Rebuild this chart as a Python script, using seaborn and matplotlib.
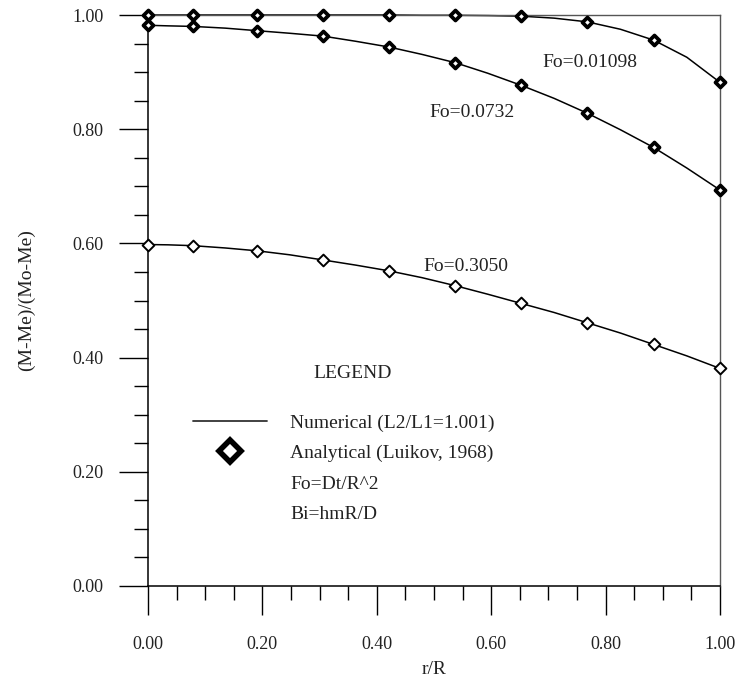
import numpy as np
import pandas as pd
import matplotlib
matplotlib.use("Agg")
import matplotlib.pyplot as plt
from matplotlib.lines import Line2D
from matplotlib.ticker import MultipleLocator, FormatStrFormatter
import seaborn as sns

# ---------------- data ----------------
r_analytical = [0.0, 0.079, 0.191, 0.306, 0.421, 0.537, 0.652, 0.768, 0.884, 1.0]
ana_fo_01098 = [1.0, 1.0, 1.0, 1.0, 1.0, 1.0, 0.998, 0.988, 0.956, 0.882]
ana_fo_0732 = [0.982, 0.980, 0.9725, 0.963, 0.944, 0.9165, 0.877, 0.828, 0.768, 0.6935]
ana_fo_3050 = [0.598, 0.596, 0.587, 0.571, 0.552, 0.526, 0.495, 0.461, 0.423, 0.381]

r_numerical = [0.0, 0.035, 0.079, 0.135, 0.191, 0.248, 0.306, 0.363, 0.421, 0.479,
               0.537, 0.594, 0.652, 0.710, 0.768, 0.826, 0.884, 0.942, 1.0]
num_fo_01098 = [1.0, 1.0, 1.0, 1.0, 1.0, 1.0, 1.0, 1.0, 1.0, 0.9995,
                0.9995, 0.999, 0.998, 0.9945, 0.988, 0.975, 0.956, 0.926, 0.882]
num_fo_0732 = [0.982, 0.981, 0.980, 0.977, 0.9725, 0.968, 0.963, 0.954, 0.944, 0.931,
               0.9165, 0.898, 0.877, 0.854, 0.828, 0.799, 0.768, 0.732, 0.6935]
num_fo_3050 = [0.598, 0.5975, 0.596, 0.592, 0.587, 0.580, 0.571, 0.562, 0.552, 0.540,
               0.526, 0.511, 0.495, 0.479, 0.461, 0.443, 0.423, 0.403, 0.381]

curve_labels = ["Fo=0.01098", "Fo=0.0732", "Fo=0.3050"]
x_ticks = [0.0, 0.2, 0.4, 0.6, 0.8, 1.0]
y_ticks = [0.0, 0.2, 0.4, 0.6, 0.8, 1.0]
legend_title = "LEGEND"
legend_labels = ["Numerical (L2/L1=1.001)", "Analytical (Luikov, 1968)",
                 "Fo=Dt/R^2", "Bi=hmR/D"]
x_label = "r/R"
y_label = "(M-Me)/(Mo-Me)"

# ---------------- style ----------------
sns.set_theme(style="ticks")
plt.rcParams["font.family"] = ["Liberation Serif", "DejaVu Serif"]
plt.rcParams["mathtext.default"] = "regular"

fig = plt.figure(figsize=(7.36, 6.78), dpi=100)
ax = fig.add_axes([148 / 736, 1 - 586 / 678, 572 / 736, 571 / 678])

num_df = pd.DataFrame({
    "r": r_numerical * 3,
    "val": num_fo_01098 + num_fo_0732 + num_fo_3050,
    "series": [curve_labels[0]] * len(r_numerical) + [curve_labels[1]] * len(r_numerical)
              + [curve_labels[2]] * len(r_numerical),
})
sns.lineplot(data=num_df, x="r", y="val", hue="series", units="series", estimator=None,
             palette=["black"] * 3, linewidth=1.1, legend=False, ax=ax, clip_on=False,
             sort=False)

marker_specs = [(ana_fo_01098, 26, 2.7), (ana_fo_0732, 26, 2.7), (ana_fo_3050, 36, 1.4)]
for vals, s, lw in marker_specs:
    sns.scatterplot(x=r_analytical, y=vals, marker="D", s=s, facecolor="white",
                    edgecolor="black", linewidth=lw, ax=ax, clip_on=False, zorder=5,
                    legend=False)

ax.set_xlim(0, 1)
ax.set_ylim(0, 1)
ax.set_xticks(x_ticks)
ax.set_yticks(y_ticks)
ax.xaxis.set_minor_locator(MultipleLocator(0.05))
ax.yaxis.set_minor_locator(MultipleLocator(0.05))
ax.xaxis.set_major_formatter(FormatStrFormatter("%.2f"))
ax.yaxis.set_major_formatter(FormatStrFormatter("%.2f"))
ax.tick_params(which="major", direction="out", length=21, width=1.0, color="black",
               labelsize=13, labelcolor="#222222")
ax.tick_params(axis="y", which="major", pad=11)
ax.tick_params(axis="x", which="major", pad=15)
ax.tick_params(which="minor", direction="out", length=10, width=1.0, color="black")

for side in ["left", "bottom"]:
    ax.spines[side].set_color("black")
    ax.spines[side].set_linewidth(1.1)
for side in ["top", "right"]:
    ax.spines[side].set_visible(True)
    ax.spines[side].set_color("#555555")
    ax.spines[side].set_linewidth(1.0)

ax.set_xlabel(x_label, fontsize=14, color="#222222")
ax.set_ylabel(y_label, fontsize=14, color="#222222")
ax.xaxis.set_label_coords(0.5, -0.131)
ax.yaxis.set_label_coords(-0.197, 0.5)

# curve labels
label_pos = [(0.773, 0.916), (0.566, 0.830), (0.556, 0.559)]
for txt, (lx, ly) in zip(curve_labels, label_pos):
    ax.text(lx, ly, txt, fontsize=14, ha="center", va="center", color="#222222")

# legend
ax.text(0.358, 0.373, legend_title, transform=ax.transAxes, fontsize=14,
        ha="center", va="center", color="#222222")
handles = [
    Line2D([], [], color="#333333", linewidth=1.3),
    Line2D([], [], linestyle="none", marker="D", markersize=11.5, markerfacecolor="white",
           markeredgecolor="black", markeredgewidth=4),
    Line2D([], [], linestyle="none"),
    Line2D([], [], linestyle="none"),
]
leg = ax.legend(handles=handles, labels=legend_labels, loc="upper left",
                bbox_to_anchor=(0.0787, 0.301), frameon=False, fontsize=14,
                handlelength=3.8, handletextpad=1.2, labelspacing=0.66,
                borderpad=0, borderaxespad=0)
for t in leg.get_texts():
    t.set_color("#222222")

fig.savefig("out.png", dpi=100)
